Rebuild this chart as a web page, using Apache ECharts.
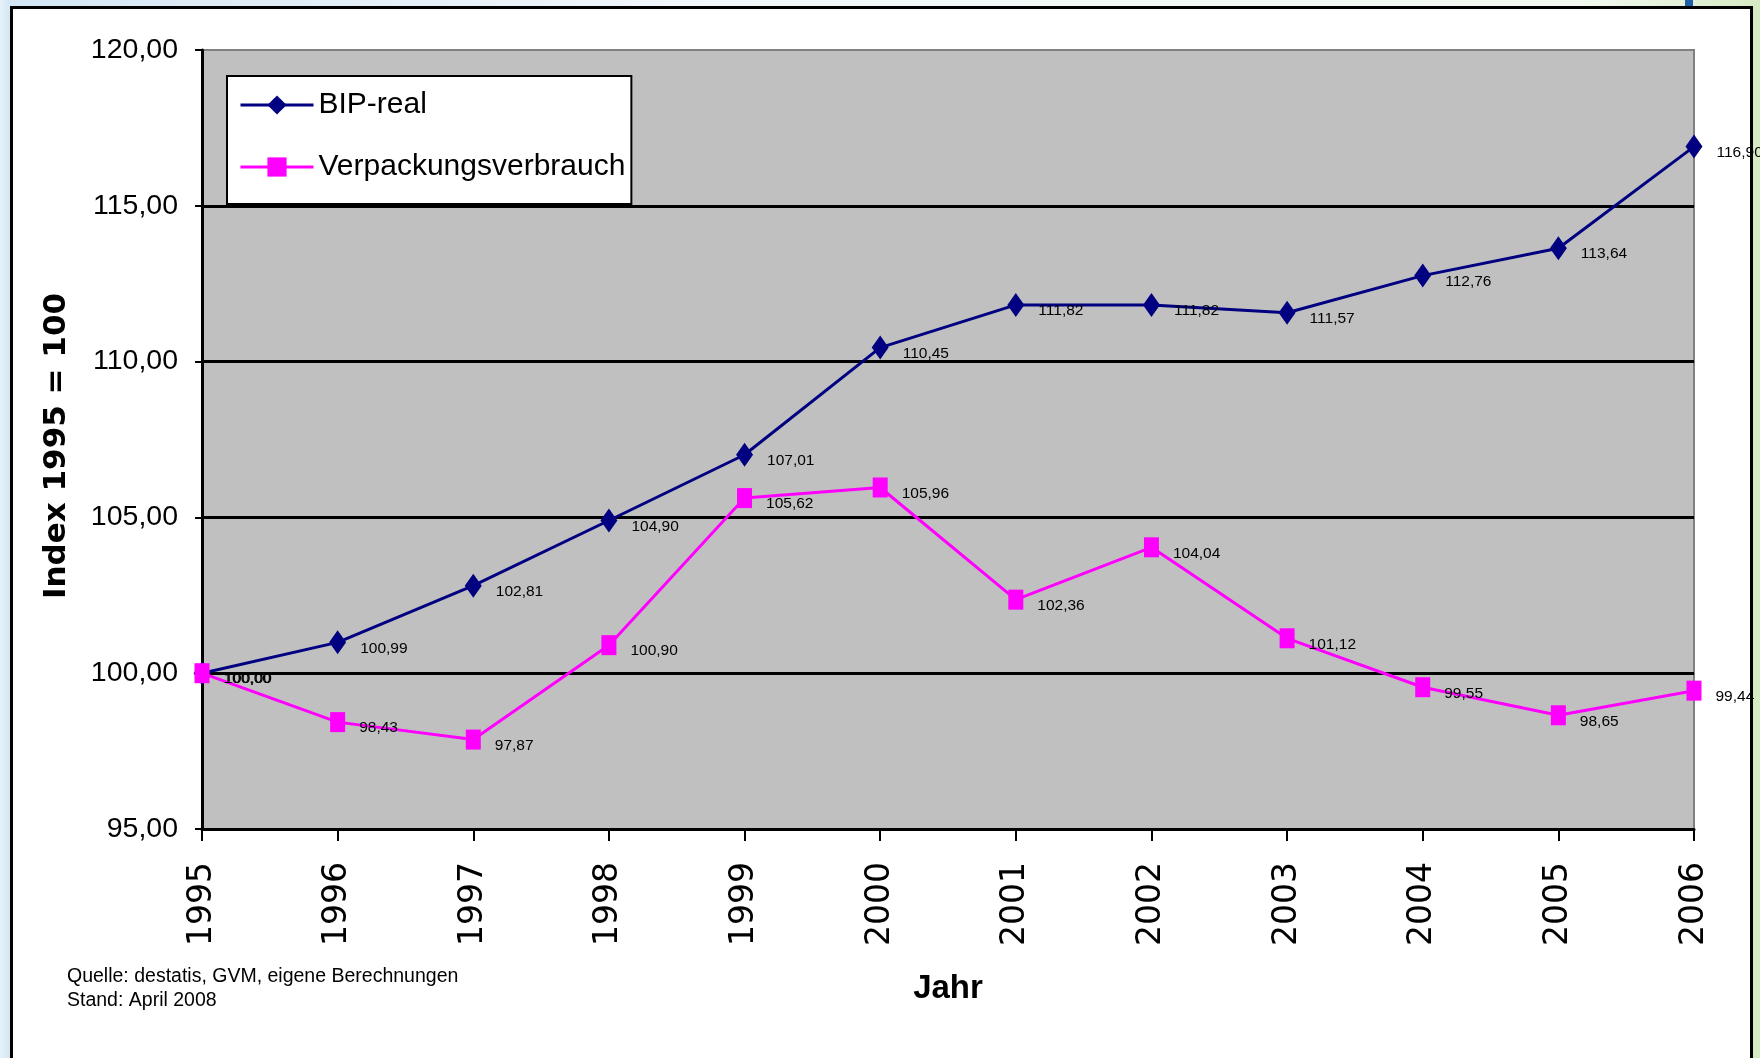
<!DOCTYPE html>
<html>
<head>
<meta charset="utf-8">
<script src="https://cdn.jsdelivr.net/npm/echarts@6/dist/echarts.min.js"></script>
<style>
  html, body { margin: 0; padding: 0; width: 1760px; height: 1058px; overflow: hidden;
    background: linear-gradient(to right, #e6f2fa 0px, #d4e6f4 10px, #f3f8fc 40%, #f3f9f0 90%, #d6eac4 100%); }
  #frame { position: absolute; left: 10px; top: 6px; width: 1737px; height: 1100px;
    background: #ffffff; border: 3px solid #000; }
  #blip { position: absolute; left: 1685px; top: 0; width: 8px; height: 6px; background: #1f5fa8; }
  #chart { position: absolute; left: 0; top: 0; width: 1760px; height: 1058px; }
</style>
</head>
<body>
<div id="blip"></div>
<div id="frame"></div>
<div id="chart"></div>
<script>
const years = ['1995','1996','1997','1998','1999','2000','2001','2002','2003','2004','2005','2006'];
const bipReal = [100.00, 100.99, 102.81, 104.90, 107.01, 110.45, 111.82, 111.82, 111.57, 112.76, 113.64, 116.90];
const verpackung = [100.00, 98.43, 97.87, 100.90, 105.62, 105.96, 102.36, 104.04, 101.12, 99.55, 98.65, 99.44];
const seriesNames = ['BIP-real', 'Verpackungsverbrauch'];
const yTitle = 'Index 1995 = 100';
const xTitle = 'Jahr';
const sourceLines = ['Quelle: destatis, GVM, eigene Berechnungen', 'Stand: April 2008'];

const NARROW = "'Liberation Sans Narrow', 'Arial Narrow', 'Liberation Sans', Arial, sans-serif";
const fmt = v => Number(v).toFixed(2).replace('.', ',');

const chart = echarts.init(document.getElementById('chart'), null, { renderer: 'canvas' });

const labelCfg = {
  show: true, position: 'right', distance: 14, offset: [0, 6],
  fontFamily: NARROW, fontSize: 15.5, color: '#000',
  formatter: p => fmt(p.value)
};

chart.setOption({
  animation: false,
  backgroundColor: 'transparent',
  grid: {
    left: 202, top: 50, right: 66, bottom: 229,
    show: true, backgroundColor: '#C0C0C0', borderColor: '#808080', borderWidth: 2
  },
  legend: {
    orient: 'vertical', left: 227, top: 76,
    backgroundColor: '#fff', borderColor: '#000', borderWidth: 2,
    padding: [12, 6, 20, 12],
    itemWidth: 73, itemHeight: 24, itemGap: 28,
    lineStyle: { width: 3 },
    textStyle: { fontFamily: NARROW, fontSize: 30, lineHeight: 34, color: '#000' },
    data: seriesNames
  },
  xAxis: {
    type: 'category', data: years, boundaryGap: false,
    axisLine: { lineStyle: { color: '#000', width: 3 } },
    axisTick: { show: true, length: 12, lineStyle: { color: '#000', width: 2 } },
    axisLabel: { rotate: 90, margin: 33, fontFamily: "'DejaVu Sans', sans-serif", fontSize: 33, color: '#000' },
    splitLine: { show: false },
    name: xTitle, nameLocation: 'middle', nameGap: 143,
    nameTextStyle: { fontFamily: NARROW, fontWeight: 'bold', fontSize: 33, color: '#000' }
  },
  yAxis: {
    type: 'value', min: 95, max: 120, interval: 5,
    axisLine: { show: true, lineStyle: { color: '#000', width: 3 } },
    axisTick: { show: true, length: 7, lineStyle: { color: '#000', width: 2 } },
    axisLabel: { margin: 24, fontFamily: NARROW, fontSize: 28.5, color: '#000', formatter: v => fmt(v) },
    splitLine: { show: true, showMinLine: false, showMaxLine: false, lineStyle: { color: '#000', width: 3 } }
  },
  series: [
    {
      name: seriesNames[0], type: 'line', data: bipReal,
      symbol: 'diamond', symbolSize: [17, 24],
      lineStyle: { color: '#000080', width: 3 },
      itemStyle: { color: '#000080' },
      label: labelCfg, z: 3
    },
    {
      name: seriesNames[1], type: 'line', data: verpackung,
      symbol: 'rect', symbolSize: [15, 20],
      lineStyle: { color: '#FF00FF', width: 3 },
      itemStyle: { color: '#FF00FF' },
      label: labelCfg, z: 4
    }
  ],
  graphic: [
    { type: 'text', x: 57, y: 446, rotation: Math.PI / 2,
      style: { text: yTitle, font: "bold 31px 'DejaVu Sans', sans-serif", fill: '#000', align: 'center', verticalAlign: 'middle' } },
    { type: 'text', left: 67, top: 967, style: { text: sourceLines[0], font: "19.5px 'Liberation Sans', Arial, sans-serif", fill: '#000' } },
    { type: 'text', left: 67, top: 991, style: { text: sourceLines[1], font: "19.5px 'Liberation Sans', Arial, sans-serif", fill: '#000' } }
  ]
});
</script>
</body>
</html>
